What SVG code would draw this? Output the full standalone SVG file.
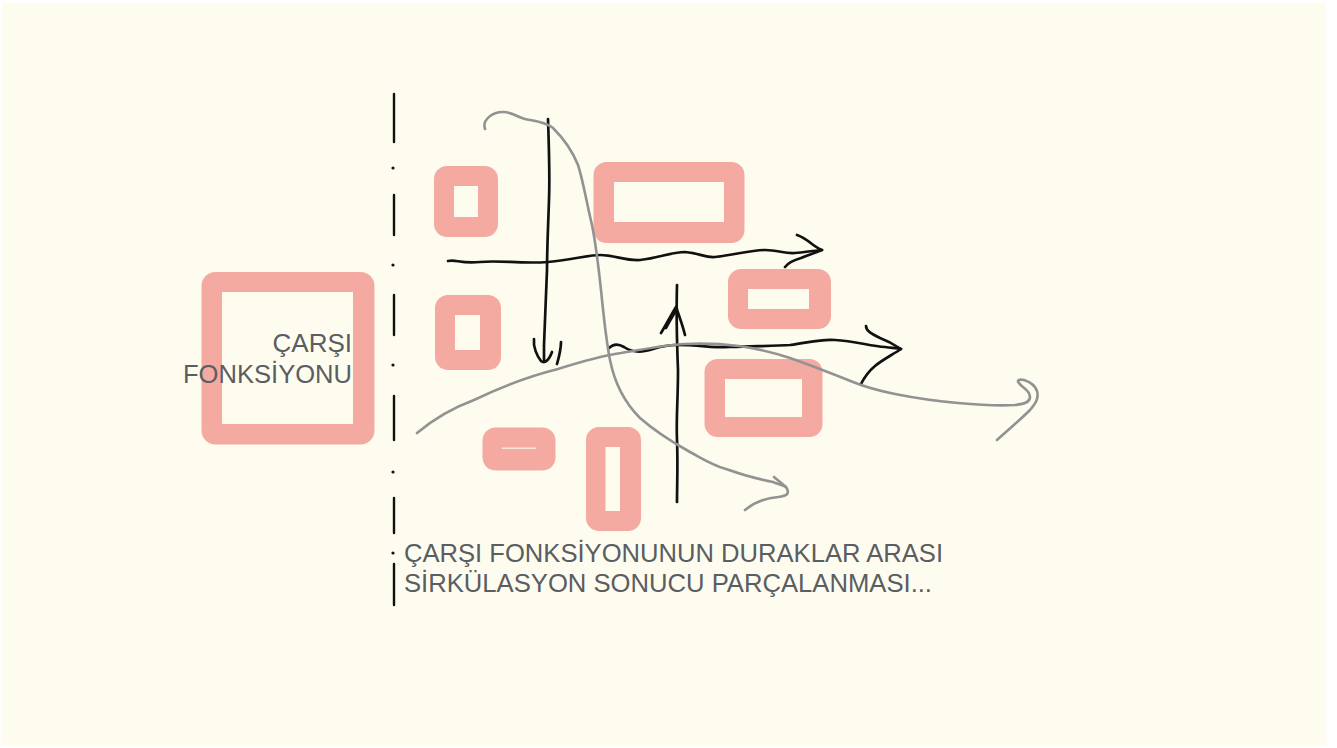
<svg xmlns="http://www.w3.org/2000/svg" width="1337" height="748" viewBox="0 0 1337 748">
<style>
.blk{fill:#f4aaa1;stroke:#f4aaa1;stroke-width:20;stroke-linejoin:round}
.blk-in{fill:#fefcef}
.pen{fill:none;stroke:#111;stroke-width:2.7;stroke-linecap:round;stroke-linejoin:round}
.gry{fill:none;stroke:#929292;stroke-width:2.6;stroke-linecap:round;stroke-linejoin:round}
.axis{fill:none;stroke:#111;stroke-width:2.4;stroke-linecap:round}
.lbl{font-family:"Liberation Sans",Arial,sans-serif;font-size:26px;fill:#5a5d61}
</style>
<rect x="0" y="0" width="1337" height="748" fill="#ffffff"/>
<rect x="2" y="3" width="1324" height="743" fill="#fefcef"/>

<g id="axis">
<path class="axis" d="M394,94 L394,142 M394,195 L394,235 M394,295 L394,335 M394,396 L394,440 M394,498 L394,533 M394,564 L394,605"/>
<circle cx="393" cy="168" r="1.6" fill="#111"/>
<circle cx="393" cy="265" r="1.6" fill="#111"/>
<circle cx="393" cy="365" r="1.6" fill="#111"/>
<circle cx="393" cy="472" r="1.6" fill="#111"/>
<circle cx="393" cy="553" r="1.6" fill="#111"/>
</g>

<g id="carsi">
<rect class="blk" x="211.5" y="282" width="153" height="152.5" rx="4"/>
<rect class="blk-in" x="222" y="292" width="131" height="132"/>
<text class="lbl" x="352" y="352" text-anchor="end">ÇARŞI</text>
<text class="lbl" x="352" y="383" text-anchor="end" textLength="169" lengthAdjust="spacingAndGlyphs">FONKSİYONU</text>
</g>

<g id="b1"><rect class="blk" x="444" y="176" width="44" height="51" rx="3"/><rect class="blk-in" x="454" y="186" width="24" height="31"/></g>
<g id="b2"><rect class="blk" x="603.5" y="172" width="131" height="61" rx="3"/><rect class="blk-in" x="614" y="182" width="110" height="40"/></g>
<g id="b3"><rect class="blk" x="738" y="279" width="83" height="40" rx="3"/><rect class="blk-in" x="748" y="289" width="61" height="20"/></g>
<g id="b4"><rect class="blk" x="445" y="305" width="46" height="55" rx="3"/><rect class="blk-in" x="455" y="315" width="25" height="35"/></g>
<g id="b5"><rect class="blk" x="714.5" y="369" width="98" height="58" rx="3"/><rect class="blk-in" x="725" y="379" width="77" height="38"/></g>
<g id="b6"><rect class="blk" x="492.5" y="437.5" width="53" height="23" rx="3"/><rect x="502" y="447.5" width="34" height="1.5" fill="#fbe6dc"/></g>
<g id="b7"><rect class="blk" x="596" y="437" width="35" height="84" rx="3"/><rect class="blk-in" x="605.5" y="447" width="14.5" height="64"/></g>

<g id="connectors">
<path class="pen" d="M548,119 C549,150 550,175 549,200 C548,230 547,250 547,270 C546,295 545,320 544,345 L544,361"/>
<path class="pen" d="M534,339 C533,347 537,356 541,361 C545,364 549,360 552,352 M561,342 C561,350 559,357 557,364"/>
<path class="pen" d="M448,261 C456,259 460,264 480,262 C500,260 520,264 548,262 C575,259 590,255 600,255 C615,255 625,261 640,260 C660,258 670,252 685,252 C700,253 705,258 715,257 C735,255 750,250 765,250 C778,250 785,254 795,253 C805,252 812,251 822,250"/>
<path class="pen" d="M797,235 C803,237 807,240 812,244 C816,247 819,249 822,250 C815,253 808,255 801,258 C794,260 788,263 785,267"/>
<path class="pen" d="M677,285 C676,320 677,345 678,370 C678,400 676,420 677,440 C678,465 677,485 677,502"/>
<path class="pen" d="M661,333 C666,325 671,315 676,307 C680,318 683,327 685,335 M666,328 C670,320 674,314 677,309"/>
<path class="pen" d="M609,348 C614,343 619,344 624,347 C630,351 636,353 645,351 C655,349 662,345 676,345 C700,345 715,348 730,347 C760,346 775,346 790,345 C808,343 818,339 835,340 C855,341 870,346 885,347 C893,348 897,348 901,349"/>
<path class="pen" d="M866,326 C866,331 872,334 880,338 C888,341 895,345 901,349 C892,355 882,360 875,366 C869,371 864,378 861,384"/>

<path class="gry" d="M485,129 C482,120 492,112 503,112 C512,112 517,117 525,119 C535,121 546,122 553,128 C563,138 572,150 578,165 C583,180 586,200 592,225 C596,245 598,262 601,290 C604,320 606,340 610,360 C614,380 622,400 640,418 C656,432 672,442 690,452 C705,460 712,465 726,469 C740,474 757,479 773,482 C778,484 782,485 786,487"/>
<path class="gry" d="M774,477 L786,487 M786,487 C790,493 788,496 778,497 C765,498 755,502 745,510"/>
<path class="gry" d="M417,433 C435,418 455,407 474,400 C505,385 530,376 558,369 C580,362 600,356 621,353 C645,349 665,345 685,344 C705,343 722,344 739,346 C760,349 775,353 790,358 C810,365 833,374 853,382 C868,388 880,391 895,394 C915,398 935,401 958,403 C980,405 1000,406 1015,405 C1025,404 1030,402 1030,397 C1030,390 1022,388 1019,383 C1016,380 1020,379 1024,380 C1030,382 1035,385 1037,391 C1039,398 1036,403 1030,410 C1020,420 1008,430 997,440"/>
</g>

<g id="caption">
<text class="lbl" x="404" y="562" textLength="539" lengthAdjust="spacingAndGlyphs">ÇARŞI FONKSİYONUNUN DURAKLAR ARASI</text>
<text class="lbl" x="404" y="592" textLength="528" lengthAdjust="spacingAndGlyphs">SİRKÜLASYON SONUCU PARÇALANMASI...</text>
</g>
</svg>
